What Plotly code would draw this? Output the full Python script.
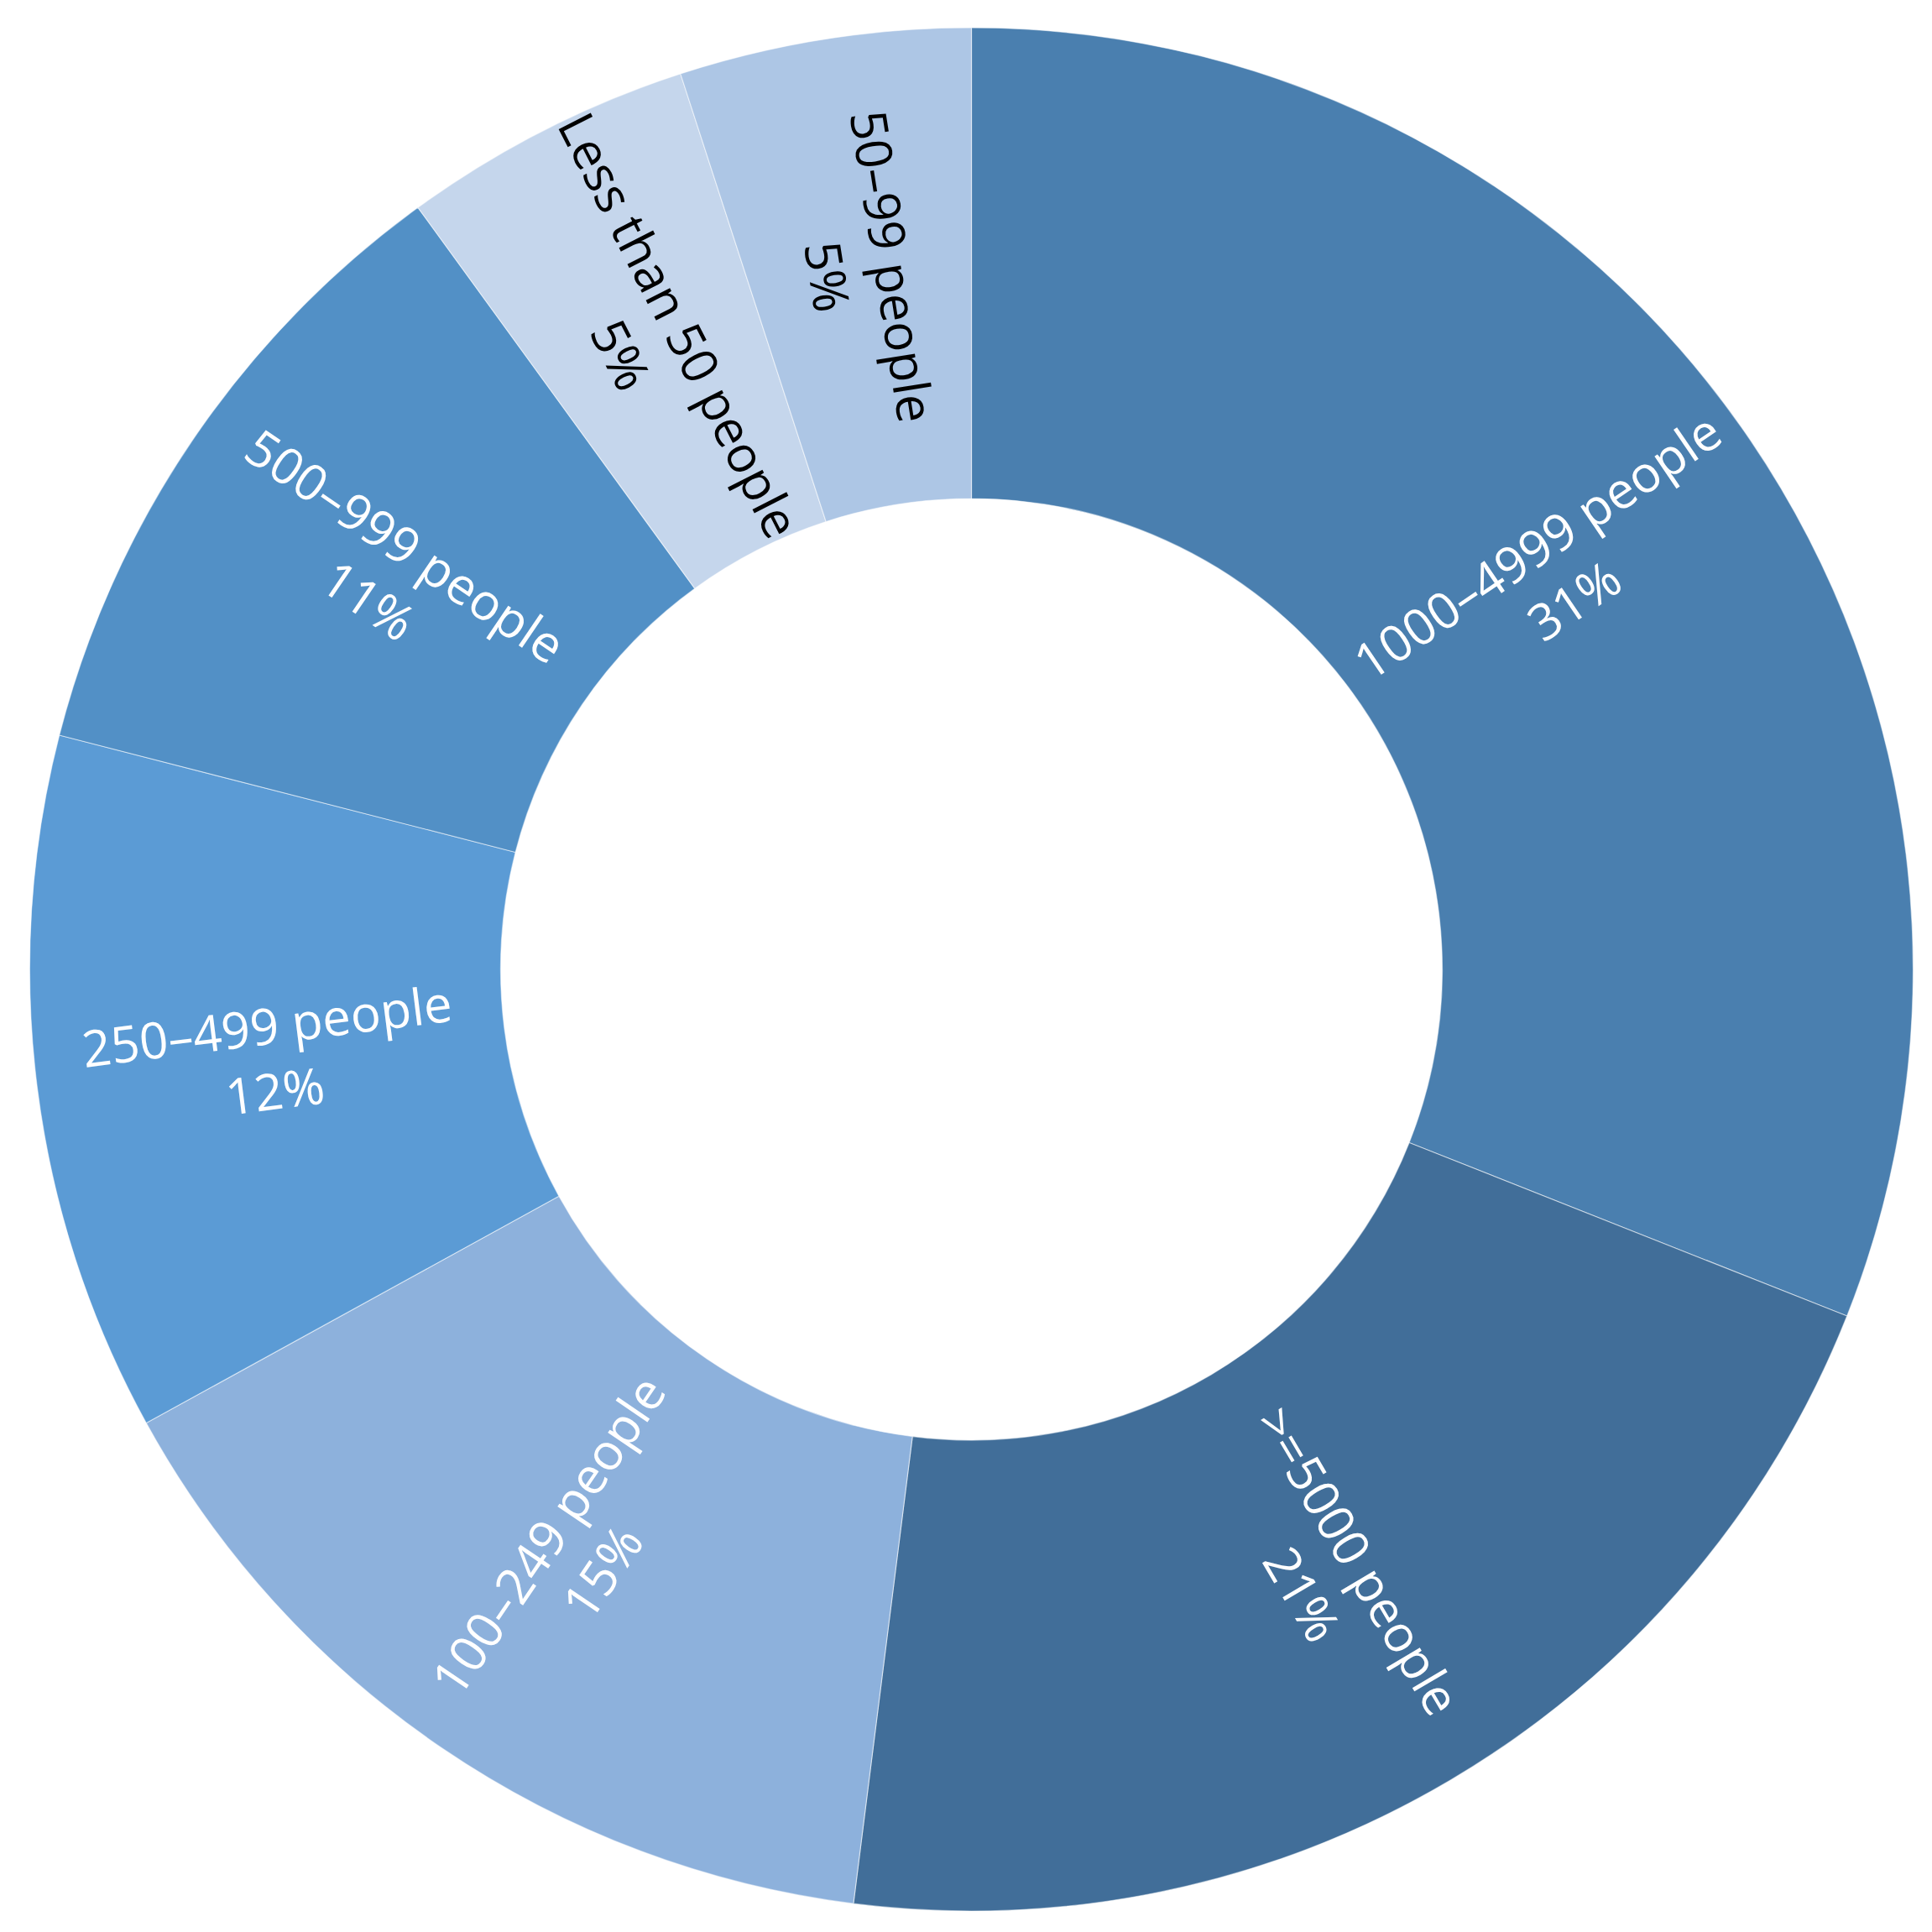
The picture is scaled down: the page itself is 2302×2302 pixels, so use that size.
import math
import plotly.graph_objects as go

labels = ["1000–4999 people", ">=5000 people", "100–249 people", "250–499 people",
          "500–999 people", "Less than 50 people", "50–99 people"]
values = [31, 21, 15, 12, 11, 5, 5]
colors = ["#4A7FAF", "#416E99", "#8DB1DC", "#5B9BD5", "#5290C6", "#C5D6EC", "#ADC6E5"]
text_colors = ["white", "white", "white", "white", "white", "black", "black"]

W = H = 2302
HOLE = 0.5
# page body has an 8px margin, so the figure origin sits at (8, 8) on screen
dom_x = [27 / W, 2272 / W]
dom_y = [1 - 2269 / H, 1 - 25 / H]

fig = go.Figure(go.Pie(
    labels=labels,
    values=values,
    hole=HOLE,
    sort=False,
    direction="clockwise",
    rotation=0,
    marker=dict(colors=colors, line=dict(color="rgba(255,255,255,0.5)", width=1.2)),
    textinfo="none",
    hoverinfo="label+percent",
    showlegend=False,
    domain=dict(x=dom_x, y=dom_y),
))

# radial labels at the middle of the ring, derived from the data
total = sum(values)
R_px = min((dom_x[1] - dom_x[0]) * W, (dom_y[1] - dom_y[0]) * H) / 2
r_lab = R_px * (1 + HOLE) / 2
cx = (dom_x[0] + dom_x[1]) / 2
cy = (dom_y[0] + dom_y[1]) / 2
cum = 0
for lab, v, tc in zip(labels, values, text_colors):
    mid = (cum + v / 2) / total * 360.0
    cum += v
    th = math.radians(mid)
    x = cx + r_lab * math.sin(th) / W
    y = cy + r_lab * math.cos(th) / H
    ang = mid - 90
    while ang > 90:
        ang -= 180
    while ang < -90:
        ang += 180
    pct = round(v / total * 100)
    fig.add_annotation(
        x=x, y=y, xref="paper", yref="paper",
        text=f"{lab}<br>{pct}%",
        showarrow=False, textangle=ang, align="center",
        xanchor="center", yanchor="middle",
        font=dict(family="Open Sans", size=60, color=tc),
    )

fig.update_layout(
    width=W, height=H,
    margin=dict(l=0, r=0, t=0, b=0),
    paper_bgcolor="white",
)
fig.write_html("out.html")
